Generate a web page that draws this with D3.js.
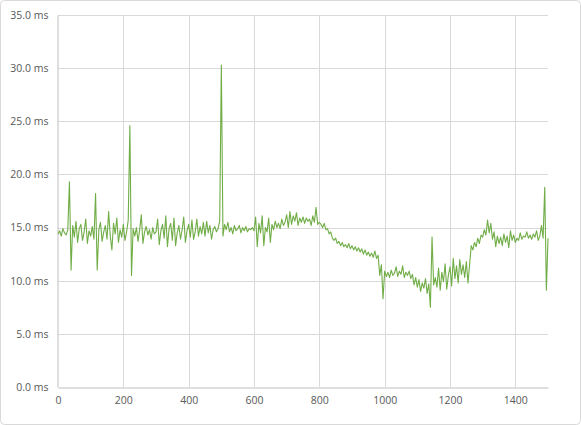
<!DOCTYPE html>
<html><head><meta charset="utf-8">
<script src="https://cdn.jsdelivr.net/npm/d3@7"></script>
<style>body{margin:0;background:#fff}</style>
</head><body>
<svg id="chart" width="581" height="425"></svg>
<script>
// sampled every 5 ms-steps along x
var xStep = 5;
var latency = [
 14.4,14.7,14.2,14.9,14.5,14.3,14.8,19.3,11.0,15.2,
 14.1,15.6,13.6,14.9,15.3,13.8,14.6,15.8,13.5,14.7,
 14.2,15.1,13.9,18.2,11.0,14.8,15.5,13.7,14.6,15.2,
 13.9,16.5,14.2,12.9,15.4,14.4,15.9,13.6,14.8,14.1,
 15.3,13.8,14.6,15.7,24.6,10.5,14.9,14.2,15.0,13.7,
 14.8,16.2,13.5,14.6,15.1,14.3,14.8,13.9,15.0,14.4,
 14.6,15.8,13.4,14.7,15.3,14.0,16.1,13.2,14.9,15.4,
 13.8,15.9,13.3,14.5,15.2,13.9,14.8,16.0,13.6,14.7,
 15.3,14.1,15.7,13.9,14.6,15.8,14.2,15.1,14.4,15.5,
 14.2,15.6,14.5,15.2,13.9,14.8,15.1,14.6,14.9,15.6,
 30.3,14.2,15.3,14.8,15.5,14.6,15.0,14.4,15.2,14.7,
 14.9,15.2,14.5,15.0,14.7,15.1,14.6,14.9,14.8,15.0,
 14.7,16.0,13.2,15.4,14.5,16.1,13.3,15.0,14.6,15.9,
 13.6,15.3,14.8,15.6,15.0,15.4,14.9,15.8,15.2,15.5,
 16.2,15.0,16.5,15.3,16.1,15.6,16.4,15.2,15.9,15.5,
 16.0,15.4,15.9,15.6,15.8,15.2,16.1,15.5,16.9,15.3,
 15.5,15.3,15.0,15.4,14.8,14.9,14.4,14.6,14.0,13.8,
 14.0,13.5,13.7,13.3,13.6,13.2,13.4,13.1,13.5,13.0,
 13.3,12.9,13.2,12.8,13.1,12.7,13.0,12.5,12.9,12.4,
 12.7,12.3,12.6,12.2,12.8,12.1,12.4,10.5,11.5,8.3,
 10.9,10.4,10.8,10.3,11.0,10.5,10.7,11.3,10.4,10.9,
 10.6,11.4,10.3,10.8,10.5,10.9,10.2,10.6,9.6,10.3,
 9.4,10.1,9.0,9.8,9.3,10.2,8.8,9.7,7.5,14.1,
 9.6,10.3,9.4,11.2,9.1,10.8,9.9,11.6,9.2,10.5,
 11.3,9.5,12.1,10.2,11.4,9.8,12.0,10.6,11.5,10.3,
 11.8,9.8,11.5,13.3,12.9,13.6,13.2,14.0,13.5,14.3,
 14.1,14.8,14.3,15.7,14.5,15.4,13.9,14.6,13.2,14.2,
 13.5,14.1,13.3,14.4,13.6,14.2,13.1,14.7,13.8,14.3,
 13.6,14.0,13.8,14.5,13.9,14.2,14.1,14.6,14.0,14.3,
 13.9,14.4,14.1,14.7,13.8,14.2,15.2,14.0,18.8,9.1,
 14.0
];
var xTicks = [0, 200, 400, 600, 800, 1000, 1200, 1400];
var yTicks = [0, 5, 10, 15, 20, 25, 30, 35];

var margin = {top: 15, left: 58, right: 33, bottom: 38};
var width = 581, height = 425;

var svg = d3.select('#chart');

// outer border
svg.append('rect')
    .attr('x', 0.5).attr('y', 0.5)
    .attr('width', width - 1).attr('height', height - 1)
    .attr('rx', 4)
    .attr('fill', '#fff').attr('stroke', '#d9d9d9');

var x = d3.scaleLinear().domain([0, 1500]).range([margin.left, width - margin.right]);
var y = d3.scaleLinear().domain([0, 35]).range([height - margin.bottom, margin.top]);

// gridlines
svg.append('g').selectAll('line').data(yTicks.slice(1)).enter().append('line')
    .attr('x1', margin.left).attr('x2', width - margin.right)
    .attr('y1', function (d) { return Math.round(y(d)) + 0.5; })
    .attr('y2', function (d) { return Math.round(y(d)) + 0.5; })
    .attr('stroke', '#d9d9d9');
svg.append('g').selectAll('line').data(xTicks.slice(1)).enter().append('line')
    .attr('x1', function (d) { return Math.round(x(d)) + 0.5; })
    .attr('x2', function (d) { return Math.round(x(d)) + 0.5; })
    .attr('y1', margin.top).attr('y2', height - margin.bottom)
    .attr('stroke', '#d9d9d9');

// axes
var xAxis = svg.append('g')
    .attr('transform', 'translate(0,' + (Math.round(y(0)) + 0.5) + ')')
    .call(d3.axisBottom(x).tickValues(xTicks).tickSize(0).tickPadding(9)
        .tickFormat(d3.format('d')));
var yAxis = svg.append('g')
    .attr('transform', 'translate(' + (margin.left - 0.5) + ',0)')
    .call(d3.axisLeft(y).tickValues(yTicks).tickSize(0).tickPadding(9)
        .tickFormat(function (d) { return d3.format('.1f')(d) + ' ms'; }));
[xAxis, yAxis].forEach(function (a) {
    a.select('.domain').attr('stroke', '#bfbfbf');
    a.selectAll('text').attr('fill', '#595959')
        .style('font-family', '"Open Sans", "DejaVu Sans", sans-serif')
        .style('font-size', '10.5px');
});

// the series
var line = d3.line()
    .x(function (d, i) { return x(i * xStep); })
    .y(function (d) { return y(d); });
svg.append('path')
    .datum(latency)
    .attr('d', line)
    .attr('fill', 'none')
    .attr('stroke', '#70ad47')
    .attr('stroke-width', 1.1)
    .attr('stroke-linejoin', 'round');
</script>
</body></html>
